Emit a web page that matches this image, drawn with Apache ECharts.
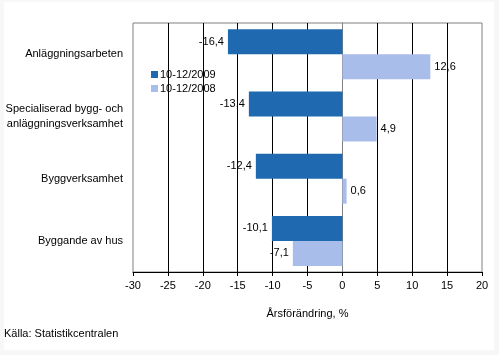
<!DOCTYPE html>
<html>
<head>
<meta charset="utf-8">
<script src="https://cdn.jsdelivr.net/npm/echarts@6/dist/echarts.min.js"></script>
<style>
html,body{margin:0;padding:0;background:#f7f7f7;}
#c{width:499px;height:355px;}
</style>
</head>
<body>
<div id="c"></div>
<script>
const categories = ['Anläggningsarbeten', 'Specialiserad bygg- och\nanläggningsverksamhet', 'Byggverksamhet', 'Byggande av hus'];
const series2009 = [-16.4, -13.4, -12.4, -10.1];
const series2008 = [12.6, 4.9, 0.6, -7.1];
const seriesNames = ['10-12/2009', '10-12/2008'];
const xTicks = {min: -30, max: 20, interval: 5};

const font = 'Liberation Sans, Arial, sans-serif';
const fmt = p => String(p.value).replace('.', ',');
function mkData(arr) {
  return arr.map(v => ({value: v, label: {position: v < 0 ? 'left' : 'right'}}));
}
const chart = echarts.init(document.getElementById('c'));
chart.setOption({
  animation: false,
  backgroundColor: 'transparent',
  textStyle: {fontFamily: font},
  graphic: [
    {type: 'rect', z: -10, shape: {x: 4, y: 2, width: 490, height: 348}, style: {fill: '#ffffff'}},
    {type: 'text', left: 4, top: 328, style: {text: 'Källa: Statistikcentralen', font: '11px ' + font, fill: '#000'}}
  ],
  grid: {left: 133, right: 17, top: 23, bottom: 83, show: true, borderColor: '#808080', borderWidth: 1, backgroundColor: 'transparent'},
  legend: {
    orient: 'vertical', left: 146, top: 64,
    itemWidth: 7, itemHeight: 7, itemGap: 3,
    icon: 'rect',
    textStyle: {fontSize: 11, fontFamily: font, color: '#000', padding: [0,0,0,-3]},
    data: seriesNames
  },
  xAxis: {
    type: 'value', min: xTicks.min, max: xTicks.max, interval: xTicks.interval,
    name: 'Årsförändring, %', nameLocation: 'middle', nameGap: 36,
    nameTextStyle: {fontSize: 11, fontFamily: font, color: '#000'},
    axisLine: {show: true, lineStyle: {color: '#000', width: 1}},
    axisTick: {show: true, length: 4, lineStyle: {color: '#000'}},
    axisLabel: {fontSize: 11, fontFamily: font, color: '#000', margin: 8},
    splitLine: {show: true, showMinLine: false, showMaxLine: false, lineStyle: {color: '#000', width: 1}}
  },
  yAxis: {
    type: 'category', data: categories, inverse: true,
    axisLine: {show: true, lineStyle: {color: '#808080'}},
    axisTick: {show: false},
    axisLabel: {fontSize: 11, fontFamily: font, color: '#000', margin: 10, lineHeight: 15, align: 'right'}
  },
  series: [
    {name: seriesNames[0], type: 'bar', data: mkData(series2009), barWidth: 25, barGap: '0%',
     itemStyle: {color: '#1f69b1'},
     label: {show: true, formatter: fmt, fontSize: 11, fontFamily: font, color: '#000', distance: 4}},
    {name: seriesNames[1], type: 'bar', data: mkData(series2008), barWidth: 25, barGap: '0%',
     itemStyle: {color: '#a8bdea'},
     label: {show: true, formatter: fmt, fontSize: 11, fontFamily: font, color: '#000', distance: 4}}
  ]
});
</script>
</body>
</html>
